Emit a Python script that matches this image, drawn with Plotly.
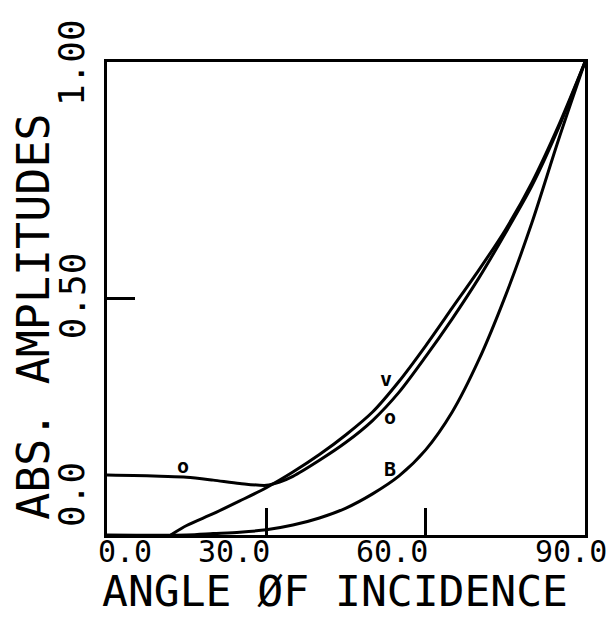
import plotly.graph_objects as go

# ---- data ----
angle_v = [12, 15, 20, 25, 30, 35, 40, 45, 50, 55, 60, 65, 70, 75, 80, 85, 90]
amp_v = [0.0, 0.02, 0.045, 0.072, 0.10, 0.133, 0.17, 0.212, 0.26, 0.325, 0.40, 0.48, 0.56, 0.645, 0.745, 0.865, 1.0]

angle_o = [0, 5, 10, 15, 20, 25, 30, 32.5, 35, 40, 45, 50, 55, 60, 65, 70, 75, 80, 85, 90]
amp_o = [0.127, 0.126, 0.124, 0.122, 0.116, 0.109, 0.105, 0.112, 0.124, 0.158, 0.196, 0.242, 0.302, 0.377, 0.457, 0.543, 0.638, 0.738, 0.86, 1.0]

angle_p = [0, 15, 20, 25, 30, 35, 40, 45, 50, 55, 60, 65, 70, 75, 80, 85, 90]
amp_p = [0.0, 0.0, 0.003, 0.006, 0.011, 0.021, 0.036, 0.057, 0.087, 0.125, 0.18, 0.26, 0.37, 0.505, 0.66, 0.835, 1.0]

curve_labels = ["o", "v", "o", "B"]
curve_label_x = [14.3, 52.6, 53.2, 53.2]
curve_label_y = [0.145, 0.33, 0.25, 0.14]

x_tick_vals = [0, 30, 60, 90]
x_tick_text = ["0.0", "30.0", "60.0", "90.0"]
x_tick_text_pos = [0.038, 0.266, 0.596, 0.971]   # paper x of label centres

y_tick_vals = [0.0, 0.5, 1.0]
y_tick_text = ["0.0", "0.50", "1.00"]
y_tick_text_pos = [0.085, 0.505, 0.998]          # paper y of label centres

x_title = "ANGLE ØF INCIDENCE"
y_title = "ABS. AMPLITUDES"

FONT = "DejaVu Sans Mono"

fig = go.Figure()
for xs, ys in [(angle_v, amp_v), (angle_o, amp_o), (angle_p, amp_p)]:
    fig.add_trace(go.Scatter(x=xs, y=ys, mode="lines",
                             line=dict(color="black", width=3, shape="spline", smoothing=0.8),
                             showlegend=False, hoverinfo="skip"))

annotations = []
for t, x, y in zip(curve_labels, curve_label_x, curve_label_y):
    annotations.append(dict(x=x, y=y, xref="x", yref="y", text=f"<b>{t}</b>", showarrow=False,
                            font=dict(family=FONT, size=20, color="black")))
for t, x in zip(x_tick_text, x_tick_text_pos):
    annotations.append(dict(x=x, y=-0.034, xref="paper", yref="paper", text=t, showarrow=False,
                            xanchor="center", yanchor="middle",
                            font=dict(family=FONT, size=30, color="black")))
for t, y in zip(y_tick_text, y_tick_text_pos):
    annotations.append(dict(x=-0.073, y=y, xref="paper", yref="paper", text=t, showarrow=False,
                            textangle=-90, xanchor="center", yanchor="middle",
                            font=dict(family=FONT, size=36, color="black")))
annotations.append(dict(x=0.476, y=-0.119, xref="paper", yref="paper", text=x_title, showarrow=False,
                        xanchor="center", yanchor="middle",
                        font=dict(family=FONT, size=43, color="black")))
annotations.append(dict(x=-0.153, y=0.461, xref="paper", yref="paper", text=y_title, showarrow=False,
                        textangle=-90, xanchor="center", yanchor="middle",
                        font=dict(family=FONT, size=45, color="black")))

fig.update_layout(
    width=616, height=623,
    margin=dict(l=99, r=39, t=54, b=96),
    paper_bgcolor="white", plot_bgcolor="white",
    annotations=annotations,
)
fig.update_xaxes(range=[0, 90], tickvals=x_tick_vals, showticklabels=False,
                 ticks="inside", ticklen=27, tickwidth=3, tickcolor="black",
                 showline=True, linewidth=3, linecolor="black", mirror=True,
                 showgrid=False, zeroline=False)
fig.update_yaxes(range=[0, 1], tickvals=y_tick_vals, showticklabels=False,
                 ticks="inside", ticklen=28, tickwidth=3, tickcolor="black",
                 showline=True, linewidth=3, linecolor="black", mirror=True,
                 showgrid=False, zeroline=False)

fig.write_html("out.html")
